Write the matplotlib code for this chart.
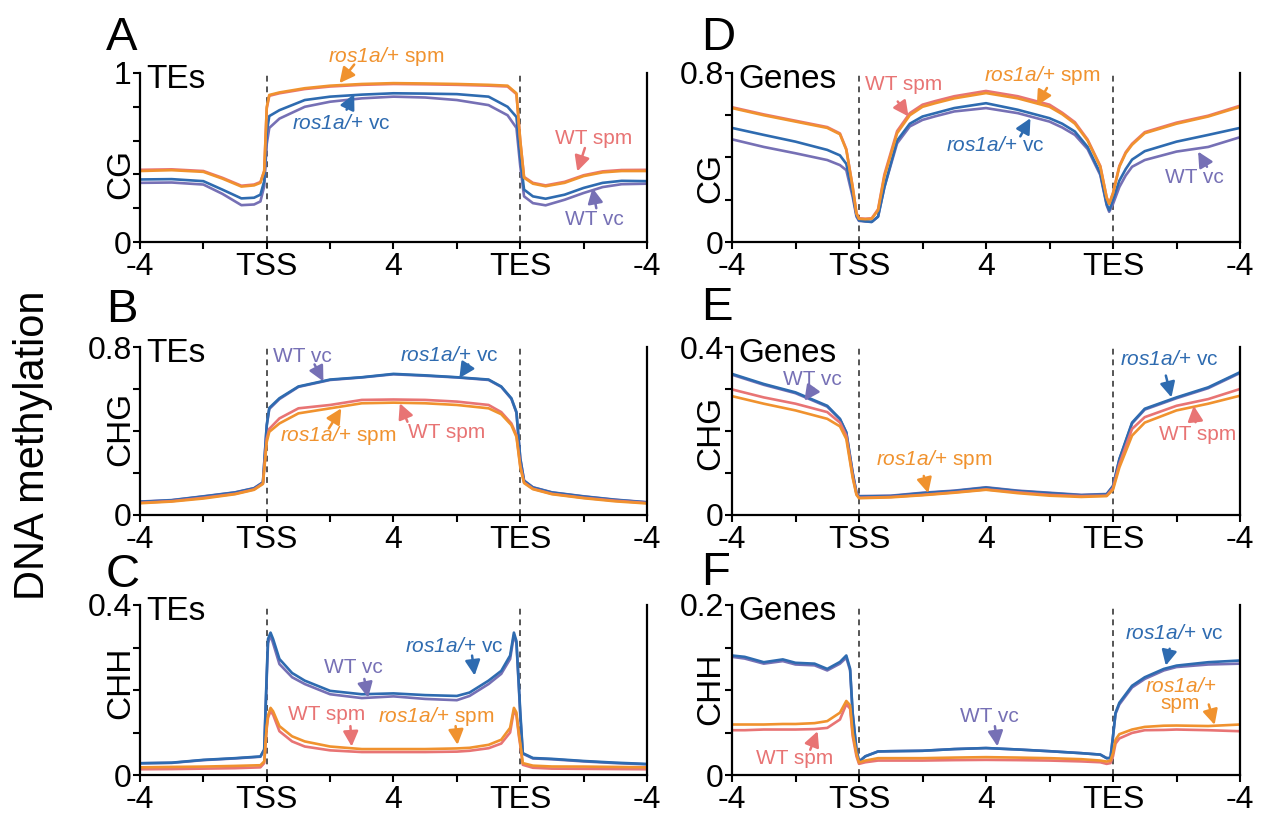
import matplotlib
matplotlib.use("Agg")
import matplotlib.pyplot as plt

plt.rcParams['font.family'] = ['Liberation Sans', 'DejaVu Sans']
plt.rcParams['mathtext.fontset'] = 'custom'
plt.rcParams['mathtext.rm'] = 'Liberation Sans:italic'
plt.rcParams['mathtext.it'] = 'Liberation Sans:italic'

# ---------------- data (x in units: 0=-4kb, 1=TSS, 2=mid, 3=TES, 4=+4kb) ----------------
x_ticklabels = ['-4', 'TSS', '4', 'TES', '-4']
series_names = ['WT vc', 'ros1a/+ vc', 'WT spm', 'ros1a/+ spm']

# Panel A: TEs CG
xA = [0, 0.25, 0.5, 0.65, 0.8, 0.9, 0.95, 0.98, 1.0, 1.02, 1.1, 1.3, 1.5, 1.75, 2.0, 2.25, 2.5, 2.75,
      2.9, 2.97, 3.0, 3.03, 3.1, 3.2, 3.35, 3.5, 3.65, 3.8, 4.0]
A_wt_vc = [0.35, 0.352, 0.34, 0.285, 0.218, 0.222, 0.24, 0.33, 0.58, 0.675, 0.73, 0.80, 0.83, 0.85, 0.86,
           0.855, 0.84, 0.81, 0.75, 0.675, 0.45, 0.27, 0.23, 0.217, 0.25, 0.29, 0.325, 0.342, 0.345]
A_ros_vc = [0.37, 0.372, 0.36, 0.31, 0.258, 0.262, 0.28, 0.36, 0.65, 0.745, 0.78, 0.84, 0.86, 0.872, 0.88,
            0.878, 0.875, 0.86, 0.80, 0.74, 0.5, 0.31, 0.27, 0.256, 0.28, 0.32, 0.35, 0.362, 0.36]
A_wt_spm = [0.427, 0.43, 0.42, 0.38, 0.333, 0.34, 0.355, 0.42, 0.79, 0.865, 0.88, 0.905, 0.92, 0.93, 0.935,
            0.933, 0.93, 0.925, 0.92, 0.875, 0.6, 0.385, 0.35, 0.335, 0.356, 0.395, 0.418, 0.426, 0.427]
A_ros_spm = [0.42, 0.425, 0.415, 0.375, 0.328, 0.335, 0.35, 0.42, 0.80, 0.87, 0.885, 0.91, 0.925, 0.935, 0.94,
             0.938, 0.935, 0.93, 0.925, 0.88, 0.6, 0.38, 0.345, 0.33, 0.35, 0.39, 0.412, 0.42, 0.42]

# Panel B: TEs CHG
xB = [0, 0.25, 0.5, 0.75, 0.9, 0.97, 1.0, 1.02, 1.1, 1.25, 1.5, 1.75, 2.0, 2.25, 2.5, 2.75, 2.85, 2.93,
      2.97, 3.0, 3.03, 3.1, 3.25, 3.5, 3.75, 4.0]
B_wt_vc = [0.064, 0.071, 0.089, 0.108, 0.128, 0.156, 0.425, 0.505, 0.552, 0.61, 0.643, 0.655, 0.67, 0.663,
           0.655, 0.643, 0.61, 0.553, 0.487, 0.27, 0.164, 0.132, 0.108, 0.089, 0.073, 0.061]
B_ros_vc = [0.0625, 0.07, 0.088, 0.107, 0.127, 0.155, 0.43, 0.51, 0.556, 0.612, 0.645, 0.656, 0.672, 0.665,
            0.656, 0.645, 0.612, 0.556, 0.49, 0.27, 0.163, 0.131, 0.107, 0.088, 0.072, 0.06]
B_wt_spm = [0.058, 0.066, 0.082, 0.101, 0.122, 0.15, 0.364, 0.41, 0.46, 0.508, 0.524, 0.548, 0.55, 0.548,
            0.54, 0.524, 0.49, 0.436, 0.38, 0.236, 0.155, 0.125, 0.101, 0.082, 0.068, 0.057]
B_ros_spm = [0.056, 0.064, 0.0785, 0.099, 0.12, 0.148, 0.348, 0.396, 0.436, 0.484, 0.508, 0.532, 0.535, 0.532,
             0.524, 0.508, 0.48, 0.428, 0.372, 0.228, 0.152, 0.123, 0.099, 0.08, 0.065, 0.055]

# Panel C: TEs CHH
xC = [0, 0.25, 0.5, 0.75, 0.95, 0.98, 1.0, 1.01, 1.03, 1.05, 1.1, 1.2, 1.3, 1.5, 1.75, 2.0, 2.25, 2.5, 2.6,
      2.75, 2.85, 2.92, 2.95, 2.97, 2.99, 3.0, 3.02, 3.1, 3.25, 3.5, 3.75, 4.0]
C_wt_vc = [0.0275, 0.0285, 0.035, 0.039, 0.043, 0.059, 0.23, 0.31, 0.329, 0.31, 0.261, 0.23, 0.214, 0.19,
           0.181, 0.185, 0.179, 0.176, 0.186, 0.214, 0.238, 0.273, 0.329, 0.31, 0.2, 0.14, 0.05, 0.039,
           0.037, 0.032, 0.028, 0.025]
C_ros_vc = [0.0277, 0.029, 0.0356, 0.0396, 0.0436, 0.06, 0.24, 0.32, 0.335, 0.32, 0.273, 0.24, 0.222, 0.198,
            0.19, 0.192, 0.188, 0.186, 0.194, 0.222, 0.245, 0.281, 0.335, 0.315, 0.205, 0.15, 0.0515, 0.04,
            0.038, 0.033, 0.029, 0.026]
C_wt_spm = [0.0135, 0.014, 0.015, 0.016, 0.018, 0.028, 0.11, 0.135, 0.15, 0.142, 0.103, 0.079, 0.067, 0.058,
            0.054, 0.054, 0.054, 0.055, 0.057, 0.063, 0.074, 0.1, 0.152, 0.14, 0.09, 0.07, 0.024, 0.017,
            0.015, 0.0145, 0.014, 0.0135]
C_ros_spm = [0.018, 0.019, 0.0198, 0.0214, 0.023, 0.032, 0.115, 0.14, 0.158, 0.15, 0.115, 0.091, 0.079, 0.067,
             0.061, 0.061, 0.061, 0.0625, 0.064, 0.071, 0.083, 0.111, 0.158, 0.147, 0.095, 0.075, 0.028, 0.022,
             0.020, 0.0198, 0.019, 0.018]

# Panel D: Genes CG
xD = [0, 0.25, 0.5, 0.75, 0.85, 0.9, 0.95, 0.98, 1.0, 1.05, 1.1, 1.15, 1.2, 1.3, 1.4, 1.5, 1.6, 1.75, 2.0,
      2.25, 2.5, 2.6, 2.7, 2.8, 2.9, 2.95, 2.97, 3.0, 3.05, 3.1, 3.15, 3.25, 3.5, 3.75, 4.0]
D_wt_vc = [0.486, 0.45, 0.42, 0.388, 0.364, 0.34, 0.214, 0.12, 0.10, 0.097, 0.095, 0.12, 0.26, 0.467, 0.547,
           0.578, 0.595, 0.618, 0.634, 0.61, 0.57, 0.542, 0.507, 0.44, 0.317, 0.174, 0.143, 0.18, 0.26, 0.315,
           0.356, 0.388, 0.428, 0.45, 0.496]
D_ros_vc = [0.54, 0.507, 0.475, 0.436, 0.41, 0.37, 0.23, 0.127, 0.103, 0.098, 0.095, 0.12, 0.26, 0.48, 0.56,
            0.594, 0.61, 0.634, 0.657, 0.626, 0.586, 0.56, 0.523, 0.45, 0.325, 0.18, 0.15, 0.20, 0.29, 0.345,
            0.39, 0.43, 0.475, 0.507, 0.54]
D_wt_spm = [0.638, 0.604, 0.574, 0.544, 0.514, 0.44, 0.262, 0.137, 0.112, 0.11, 0.112, 0.155, 0.32, 0.525,
            0.61, 0.65, 0.667, 0.69, 0.715, 0.69, 0.65, 0.612, 0.567, 0.485, 0.36, 0.212, 0.182, 0.232, 0.36,
            0.425, 0.465, 0.52, 0.565, 0.598, 0.645]
D_ros_spm = [0.634, 0.60, 0.57, 0.54, 0.51, 0.436, 0.26, 0.135, 0.11, 0.108, 0.11, 0.15, 0.31, 0.515, 0.60,
             0.64, 0.657, 0.68, 0.705, 0.68, 0.64, 0.605, 0.56, 0.48, 0.356, 0.21, 0.18, 0.23, 0.356, 0.42,
             0.46, 0.515, 0.56, 0.594, 0.64]

# Panel E: Genes CHG
xE = [0, 0.25, 0.5, 0.75, 0.85, 0.9, 0.95, 0.98, 1.0, 1.25, 1.5, 1.75, 2.0, 2.25, 2.5, 2.75, 2.95, 3.0,
      3.05, 3.15, 3.25, 3.5, 3.75, 4.0]
E_wt_vc = [0.334, 0.31, 0.29, 0.258, 0.228, 0.196, 0.1, 0.053, 0.045, 0.046, 0.053, 0.058, 0.066, 0.058,
           0.053, 0.048, 0.05, 0.069, 0.132, 0.218, 0.251, 0.278, 0.302, 0.338]
E_ros_vc = [0.336, 0.312, 0.292, 0.26, 0.229, 0.197, 0.101, 0.053, 0.044, 0.045, 0.052, 0.057, 0.065, 0.057,
            0.052, 0.047, 0.049, 0.069, 0.133, 0.22, 0.253, 0.28, 0.304, 0.34]
E_wt_spm = [0.299, 0.28, 0.265, 0.245, 0.22, 0.189, 0.093, 0.05, 0.041, 0.043, 0.048, 0.054, 0.061, 0.054,
            0.048, 0.045, 0.046, 0.064, 0.121, 0.205, 0.233, 0.26, 0.276, 0.30]
E_ros_spm = [0.283, 0.265, 0.249, 0.229, 0.211, 0.181, 0.089, 0.048, 0.04, 0.042, 0.047, 0.053, 0.06, 0.052,
             0.046, 0.043, 0.045, 0.06, 0.113, 0.189, 0.22, 0.249, 0.265, 0.284]

# Panel F: Genes CHH
xF = [0, 0.1, 0.25, 0.4, 0.5, 0.65, 0.75, 0.85, 0.9, 0.93, 0.95, 0.98, 1.0, 1.05, 1.15, 1.25, 1.5, 1.75,
      2.0, 2.25, 2.5, 2.75, 2.9, 2.95, 2.98, 3.0, 3.02, 3.05, 3.15, 3.25, 3.4, 3.5, 3.75, 4.0]
F_wt_vc = [0.139, 0.137, 0.131, 0.134, 0.130, 0.129, 0.123, 0.131, 0.138, 0.123, 0.072, 0.03, 0.0158, 0.022,
           0.0277, 0.028, 0.0285, 0.0305, 0.0317, 0.030, 0.028, 0.0257, 0.024, 0.0198, 0.02, 0.0455, 0.072,
           0.083, 0.103, 0.113, 0.123, 0.127, 0.130, 0.131]
F_ros_vc = [0.1406, 0.139, 0.1327, 0.136, 0.132, 0.131, 0.1248, 0.133, 0.1406, 0.125, 0.0733, 0.03, 0.0158,
            0.022, 0.0277, 0.028, 0.0285, 0.0305, 0.0317, 0.030, 0.028, 0.0257, 0.024, 0.0198, 0.02, 0.0455,
            0.0733, 0.085, 0.105, 0.115, 0.1248, 0.1287, 0.1327, 0.1347]
F_wt_spm = [0.0527, 0.0527, 0.0535, 0.0535, 0.0535, 0.054, 0.0554, 0.0653, 0.0832, 0.078, 0.046, 0.022,
            0.0131, 0.015, 0.017, 0.017, 0.017, 0.0175, 0.0178, 0.0175, 0.017, 0.016, 0.015, 0.0131, 0.014,
            0.022, 0.037, 0.043, 0.0495, 0.0527, 0.053, 0.0535, 0.0527, 0.0515]
F_ros_spm = [0.0594, 0.0594, 0.0594, 0.060, 0.060, 0.061, 0.0634, 0.0733, 0.0871, 0.082, 0.05, 0.025, 0.0147,
             0.017, 0.0198, 0.0198, 0.0198, 0.0205, 0.021, 0.0205, 0.0198, 0.0186, 0.017, 0.0158, 0.017,
             0.0257, 0.0416, 0.048, 0.0535, 0.0566, 0.058, 0.0582, 0.0576, 0.0594]

panel_letters = ['A', 'B', 'C', 'D', 'E', 'F']
panel_region = ['TEs', 'TEs', 'TEs', 'Genes', 'Genes', 'Genes']
panel_context = ['CG', 'CHG', 'CHH', 'CG', 'CHG', 'CHH']
panel_ymax = [1.0, 0.8, 0.4, 0.8, 0.4, 0.2]
panel_ymax_label = ['1', '0.8', '0.4', '0.8', '0.4', '0.2']
panel_x = [xA, xB, xC, xD, xE, xF]
panel_series = [
    [A_wt_vc, A_ros_vc, A_wt_spm, A_ros_spm],
    [B_wt_vc, B_ros_vc, B_wt_spm, B_ros_spm],
    [C_wt_vc, C_ros_vc, C_wt_spm, C_ros_spm],
    [D_wt_vc, D_ros_vc, D_wt_spm, D_ros_spm],
    [E_wt_vc, E_ros_vc, E_wt_spm, E_ros_spm],
    [F_wt_vc, F_ros_vc, F_wt_spm, F_ros_spm],
]

# ---------------- style / layout ----------------
colors = ['#7670B5', '#2E6BB0', '#E87474', '#F0922E']
# italic genotype part rendered via mathtext (mathtext.rm set to the italic face)
label_text = [r'WT vc', r'$\mathrm{ros1a/}$+ vc', r'WT spm', r'$\mathrm{ros1a/}$+ spm']

W, H = 1261, 813
axes_px = [  # left, top(of y-max), right, bottom(of y=0)
    (140, 73, 647, 242), (140, 347, 647, 515), (140, 605, 647, 775),
    (732, 73, 1240, 242), (732, 347, 1240, 515), (732, 605, 1240, 775),
]
ylabel_y = [0.40, 0.51, 0.54, 0.376, 0.49, 0.505]
letter_pos = [(106, 50), (106, 322), (106, 587), (701, 50), (701, 320), (701, 585)]

# annotations: (series index, text center, arrow tail, arrow head) in data coords
annots = [
    [(3, (1.94, 1.10), (1.69, 1.05), (1.574, 0.94)),
     (1, (1.59, 0.704), (1.63, 0.783), (1.69, 0.876)),
     (2, (3.58, 0.615), (3.51, 0.556), (3.45, 0.418)),
     (0, (3.585, 0.132), (3.6, 0.2), (3.57, 0.32))],
    [(0, (1.284, 0.757), (1.377, 0.717), (1.447, 0.636)),
     (1, (2.44, 0.76), (2.59, 0.717), (2.52, 0.652)),
     (3, (1.56, 0.38), (1.49, 0.412), (1.588, 0.508)),
     (2, (2.42, 0.393), (2.11, 0.444), (2.05, 0.532))],
    [(1, (2.477, 0.303), (2.62, 0.281), (2.64, 0.234)),
     (0, (1.68, 0.253), (1.77, 0.226), (1.8, 0.182)),
     (2, (1.475, 0.1426), (1.66, 0.115), (1.67, 0.067)),
     (3, (2.335, 0.137), (2.49, 0.115), (2.505, 0.071))],
    [(2, (1.35, 0.745), (1.305, 0.665), (1.39, 0.594)),
     (3, (2.44, 0.787), (2.48, 0.729), (2.40, 0.645)),
     (1, (2.07, 0.456), (2.27, 0.5), (2.35, 0.586)),
     (0, (3.64, 0.306), (3.74, 0.356), (3.67, 0.428))],
    [(0, (0.63, 0.322), (0.64, 0.302), (0.57, 0.272)),
     (3, (1.59, 0.131), (1.51, 0.093), (1.545, 0.052)),
     (1, (3.446, 0.37), (3.416, 0.332), (3.46, 0.28)),
     (2, (3.666, 0.191), (3.65, 0.221), (3.636, 0.26))],
    [(1, (3.48, 0.166), (3.446, 0.1485), (3.416, 0.1287)),
     (3, (3.53, 0.0939), (3.754, 0.083), (3.8, 0.059)),
     (0, (2.03, 0.069), (2.07, 0.0574), (2.09, 0.0337)),
     (2, (0.49, 0.019), (0.616, 0.0297), (0.674, 0.0515))],
]

fig = plt.figure(figsize=(W / 100, H / 100), dpi=100)

for i in range(6):
    l, t, r, b = axes_px[i]
    ax = fig.add_axes([l / W, 1 - b / H, (r - l) / W, (b - t) / H])
    ymax = panel_ymax[i]
    xs = panel_x[i]
    for k in range(4):
        ax.plot(xs, panel_series[i][k], color=colors[k], lw=1.9, solid_joinstyle='round')
    for xv in (1, 3):
        ax.axvline(xv, color='#555555', lw=1.4, ls=(0, (3, 2.5)), zorder=0)
    ax.set_xlim(0, 4)
    ax.set_ylim(0, ymax)
    ax.set_xticks([0, 1, 2, 3, 4])
    ax.set_xticklabels(x_ticklabels)
    ax.set_xticks([0.5, 1.5, 2.5, 3.5], minor=True)
    ax.set_yticks([0, ymax])
    ax.set_yticklabels(['0', panel_ymax_label[i]])
    ax.set_yticks([ymax * f for f in (0.25, 0.5, 0.75)] if i != 0 else [0.2, 0.4, 0.6, 0.8], minor=True)
    ax.tick_params(axis='both', which='both', direction='out', length=5, width=1.5,
                   labelsize=23, colors='black')
    ax.tick_params(axis='x', which='both', pad=2.5)
    ax.tick_params(axis='y', which='both', pad=1.0)
    ax.spines['top'].set_visible(False)
    for s in ('left', 'bottom', 'right'):
        ax.spines[s].set_linewidth(1.6)
    ax.set_ylabel(panel_context[i], fontsize=24)
    ax.yaxis.set_label_coords(-0.008 if i < 3 else -0.012, ylabel_y[i])
    ax.text(0.013, 1.055, panel_region[i], transform=ax.transAxes, fontsize=24,
            ha='left', va='top')
    for (k, txy, tail, head) in annots[i]:
        txt = label_text[k]
        if i == 5 and k == 3:
            txt = r'$\mathrm{ros1a/}$+' + '\n' + 'spm'
        ax.text(txy[0], txy[1], txt, color=colors[k], fontsize=15, ha='center', va='center',
                linespacing=0.85)
        ax.annotate('', xy=head, xytext=tail,
                    arrowprops=dict(arrowstyle='-|>,head_length=0.7,head_width=0.35',
                                    color=colors[k], lw=1.8, shrinkA=0, shrinkB=0,
                                    mutation_scale=13))
    lx, ly = letter_pos[i]
    fig.text(lx / W, 1 - ly / H, panel_letters[i], fontsize=34, ha='left', va='baseline')

fig.text(33 / W, 1 - 445 / H, 'DNA methylation', fontsize=30, rotation=90, ha='center', va='center')

fig.savefig('out.png', dpi=100)
